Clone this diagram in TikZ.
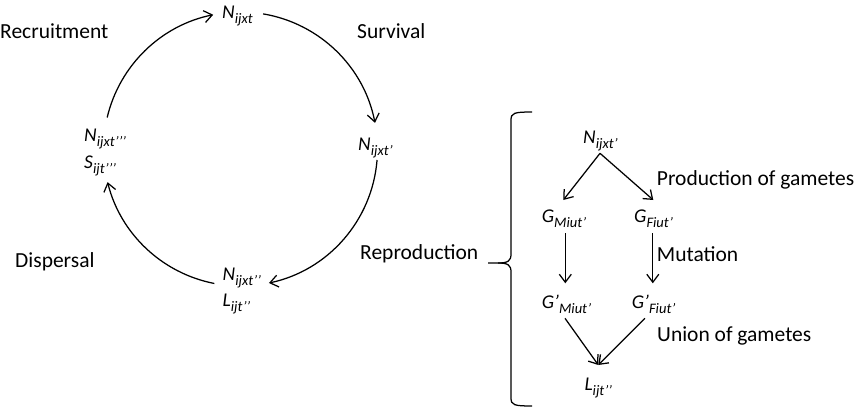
\documentclass[tikz,border=0pt]{standalone}
\usepackage{fontspec}
\setmainfont{Carlito}
\usetikzlibrary{arrows.meta,calc}
\newcommand{\lbl}[2]{{\fontsize{19.5}{19.5}\selectfont\itshape #1}{\fontsize{14.5}{14.5}\selectfont\itshape\raisebox{-5pt}{#2}}}
\begin{document}
\begin{tikzpicture}[x=1pt,y=-1pt,
  txt/.style={anchor=base west,inner sep=0pt,font=\fontsize{21.5}{21.5}\selectfont},
  mth/.style={anchor=base west,inner sep=0pt},
  arr/.style={line width=1.25pt,-{Straight Barb[length=8pt,width=12pt]}},
  ln/.style={line width=1.25pt}]
\useasboundingbox (0,0) rectangle (861,409);
% cycle labels
\node[txt] (rec) at (0,39) {Recruitment};
\node[txt] (sur) at (357,39) {Survival};
\node[txt] (dis) at (15,267) {Dispersal};
\node[txt] (rep) at (360,259) {Reproduction};
\node[mth] (n0) at (222,18.3) {\lbl{N}{ijxt}};
\node[mth] (n1) at (358,150) {\lbl{N}{ijxt’}};
\node[mth] (n3) at (84,141.7) {\lbl{N}{ijxt’’’}};
\node[mth] (s3) at (84,168) {\lbl{S}{ijt’’’}};
\node[mth] (n2) at (222.5,280) {\lbl{N}{ijxt’’}};
\node[mth] (l2) at (222.5,306.5) {\lbl{L}{ijt’’}};
% arcs
\coordinate (c) at (240.5,149);
\draw[arr] (c) ++(-166.7:137) arc[start angle=-166.7,end angle=-101.5,radius=137];
\draw[arr] (c) ++(-80.5:137) arc[start angle=-80.5,end angle=-11,radius=137];
\draw[arr] (c) ++(4.6:137) arc[start angle=4.6,end angle=78,radius=137];
\draw[arr] (c) ++(101:137) arc[start angle=101,end angle=166,radius=137];
% brace
\draw[ln] (532,112) .. controls (514,112) and (511,113) .. (511,120) -- (511,254)
  .. controls (511,261) and (508,263) .. (498,263) -- (488,263);
\draw[ln] (498,263) .. controls (508,263) and (511,265) .. (511,272) -- (511,398)
  .. controls (511,405) and (514,406) .. (532,406);
% tree
\node[mth] (tn) at (583,143.3) {\lbl{N}{ijxt’}};
\node[mth] (gm) at (541.7,222) {\lbl{G}{Miut’}};
\node[mth] (gf) at (634,222) {\lbl{G}{Fiut’}};
\node[mth] (hm) at (541.7,308.3) {\lbl{G’}{Miut’}};
\node[mth] (hf) at (631.7,308.3) {\lbl{G’}{Fiut’}};
\node[mth] (tl) at (584.3,390) {\lbl{L}{ijt’’}};
\node[txt] (pg) at (656.7,185) {Production of gametes};
\node[txt] (mu) at (656.7,261.7) {Mutation};
\node[txt] (ug) at (657,341.7) {Union of gametes};
\coordinate (tnb) at (600,153.3);
\coordinate (gmt) at (563.3,200);
\coordinate (gft) at (653.3,200);
\coordinate (gmb) at (565.3,233);
\coordinate (gfb) at (652.8,233);
\coordinate (hmt) at (565.3,283.3);
\coordinate (hft) at (652.8,283.3);
\coordinate (hmb) at (565,318.3);
\coordinate (hfb) at (645,318.3);
\coordinate (tlt) at (598.3,365);
\draw[arr] (tnb) -- (gmt);
\draw[arr] (tnb) -- (gft);
\draw[arr] (gmb) -- (hmt);
\draw[arr] (gfb) -- (hft);
\draw[arr] (hmb) -- (tlt);
\draw[arr] (hfb) -- (tlt);
\end{tikzpicture}
\end{document}
